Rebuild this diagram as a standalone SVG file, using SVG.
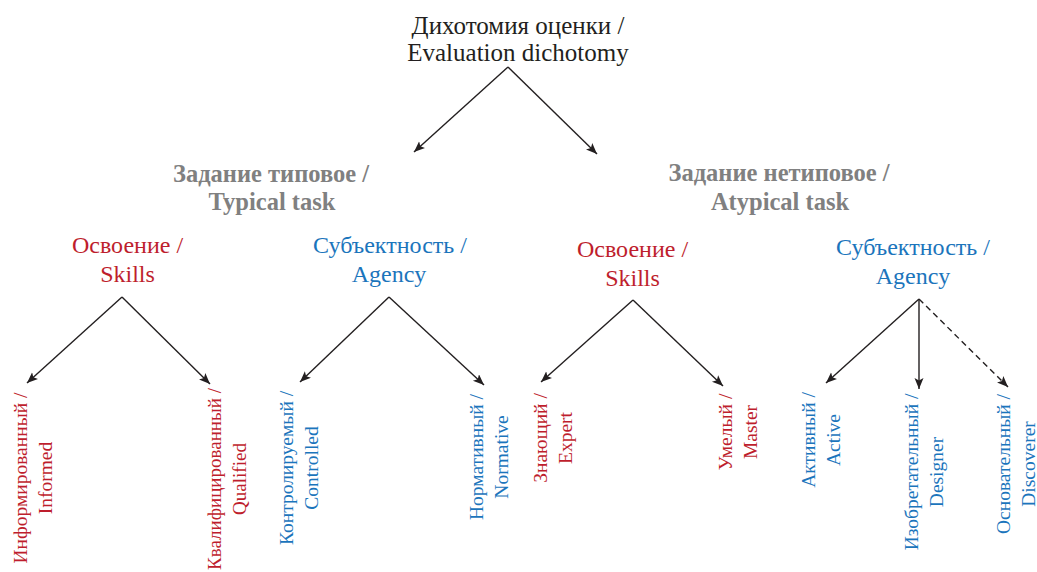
<svg xmlns="http://www.w3.org/2000/svg" width="1037" height="572" viewBox="0 0 1037 572">
<style>
text{font-family:"Liberation Serif","Times New Roman",serif;text-anchor:middle}
.title{font-size:25px;fill:#231f20}
.task{font-size:24.5px;font-weight:bold;fill:#808080}
.red{fill:#be1e2d}
.blue{fill:#1b75bc}
.cat{font-size:24px}
.leaf{font-size:19.5px}
.conn{stroke:#231f20;stroke-width:1.4;fill:none;marker-end:url(#ah)}
.dash{stroke-dasharray:6 4}
</style>
<defs>
<marker id="ah" markerUnits="userSpaceOnUse" markerWidth="12" markerHeight="10" refX="11" refY="4.5" orient="auto">
<path d="M0,0 L11,4.5 L0,9 L2.5,4.5 z" fill="#231f20"/>
</marker>
</defs>
<rect width="1037" height="572" fill="#ffffff"/>
<g id="connectors">
<line class="conn" x1="508" y1="67" x2="414" y2="152"/>
<line class="conn" x1="508" y1="67" x2="597" y2="154"/>
<line class="conn" x1="122" y1="297" x2="27" y2="383"/>
<line class="conn" x1="122" y1="297" x2="210" y2="384"/>
<line class="conn" x1="389" y1="297" x2="300" y2="382"/>
<line class="conn" x1="389" y1="297" x2="484" y2="385"/>
<line class="conn" x1="633" y1="300" x2="541" y2="382"/>
<line class="conn" x1="633" y1="300" x2="723" y2="386"/>
<line class="conn" x1="919" y1="299" x2="826" y2="383"/>
<line class="conn" x1="919" y1="299" x2="919" y2="389"/>
<line class="conn dash" x1="919" y1="299" x2="1008" y2="387"/>
</g>
<g id="root"><text class="title"><tspan x="518" y="34">Дихотомия оценки /</tspan><tspan x="518" y="61">Evaluation dichotomy</tspan></text></g>
<g id="typical"><text class="task"><tspan x="271" y="182">Задание типовое /</tspan><tspan x="272" y="210">Typical task</tspan></text></g>
<g id="atypical"><text class="task"><tspan x="779" y="181">Задание нетиповое /</tspan><tspan x="780" y="210">Atypical task</tspan></text></g>
<g id="skills1"><text class="cat red"><tspan x="127.5" y="253">Освоение /</tspan><tspan x="127.5" y="282">Skills</tspan></text></g>
<g id="agency1"><text class="cat blue"><tspan x="390" y="253">Субъектность /</tspan><tspan x="389" y="282">Agency</tspan></text></g>
<g id="skills2"><text class="cat red"><tspan x="632.5" y="257">Освоение /</tspan><tspan x="632.5" y="286">Skills</tspan></text></g>
<g id="agency2"><text class="cat blue"><tspan x="913" y="255">Субъектность /</tspan><tspan x="913" y="284">Agency</tspan></text></g>
<g id="informed" transform="translate(27,478) rotate(-90)"><text class="leaf red"><tspan x="0" y="0">Информированный /</tspan><tspan x="0" y="24.5">Informed</tspan></text></g>
<g id="qualified" transform="translate(221,479) rotate(-90)"><text class="leaf red" style="font-size:19px"><tspan x="0" y="0">Квалифицированный /</tspan><tspan x="0" y="24.5">Qualified</tspan></text></g>
<g id="controlled" transform="translate(293,468) rotate(-90)"><text class="leaf blue"><tspan x="0" y="0">Контролируемый /</tspan><tspan x="0" y="24.5">Controlled</tspan></text></g>
<g id="normative" transform="translate(483,457) rotate(-90)"><text class="leaf blue"><tspan x="0" y="0">Нормативный /</tspan><tspan x="0" y="24.5">Normative</tspan></text></g>
<g id="expert" transform="translate(547,438) rotate(-90)"><text class="leaf red"><tspan x="0" y="0">Знающий /</tspan><tspan x="0" y="24.5">Expert</tspan></text></g>
<g id="master" transform="translate(732,432) rotate(-90)"><text class="leaf red"><tspan x="0" y="0">Умелый /</tspan><tspan x="0" y="24.5">Master</tspan></text></g>
<g id="active" transform="translate(815,440) rotate(-90)"><text class="leaf blue"><tspan x="0" y="0">Активный /</tspan><tspan x="0" y="24.5">Active</tspan></text></g>
<g id="designer" transform="translate(918,472) rotate(-90)"><text class="leaf blue"><tspan x="0" y="0">Изобретательный /</tspan><tspan x="0" y="24.5">Designer</tspan></text></g>
<g id="discoverer" transform="translate(1010,464) rotate(-90)"><text class="leaf blue"><tspan x="0" y="0">Основательный /</tspan><tspan x="0" y="24.5">Discoverer</tspan></text></g>
</svg>
